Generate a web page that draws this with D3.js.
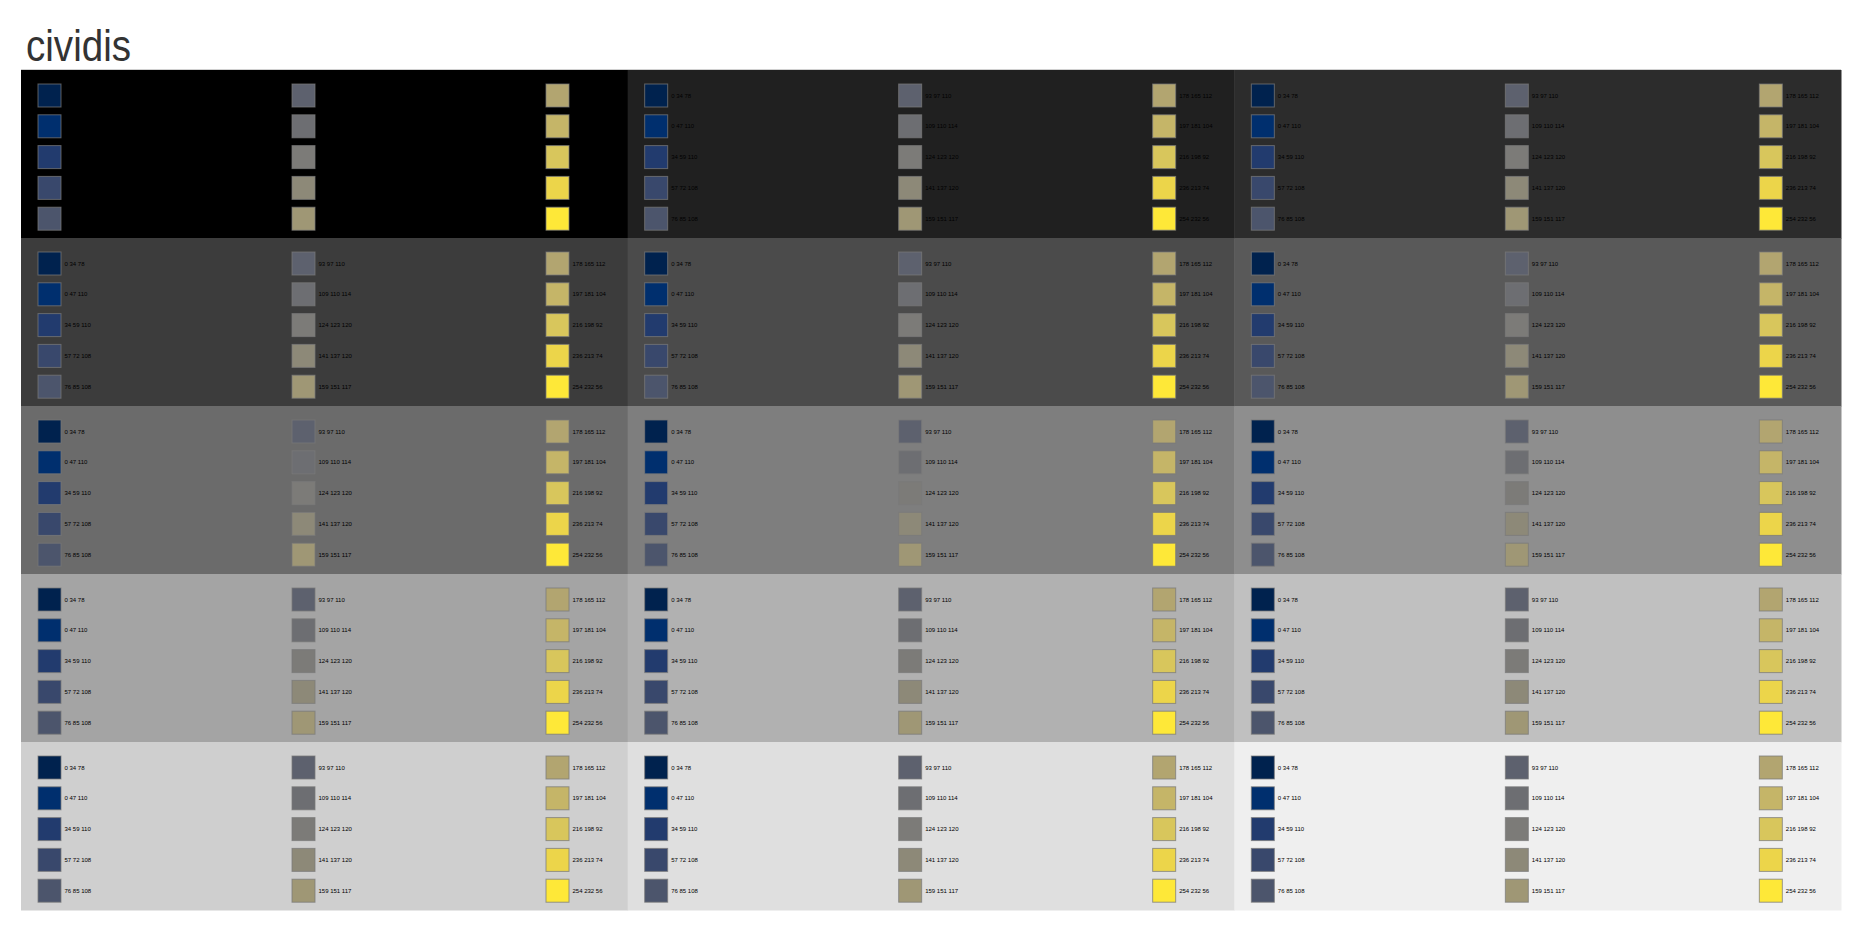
<!DOCTYPE html>
<html>
<head>
<meta charset="utf-8">
<script src="https://cdn.jsdelivr.net/npm/d3@7"></script>
<style>
  html, body { margin: 0; padding: 0; background: #fff; }
  svg { display: block; }
</style>
</head>
<body>
<svg id="chart" width="1862" height="931"></svg>
<script>
const title = "cividis";
// cividis swatch colours (r g b), 3 columns x 5 rows
const swatchColors = [
  "0 34 78", "0 47 110", "34 59 110", "57 72 108", "76 85 108",
  "93 97 110", "109 110 114", "124 123 120", "141 137 120", "159 151 117",
  "178 165 112", "197 181 104", "216 198 92", "236 213 74", "254 232 56"
];
// panel background grey levels (row-major, 5 rows x 3 columns)
const panelGreys = [
  0, 32, 44,
  60, 75, 89,
  107, 126, 142,
  164, 177, 192,
  207, 223, 239
];
const panelCols = [0, 1, 2];
const panelRows = [0, 1, 2, 3, 4];
const swatchCols = [0, 1, 2];
const swatchRows = [0, 1, 2, 3, 4];

const svg = d3.select("#chart");

svg.append("text")
  .attr("x", 26)
  .attr("y", 61)
  .attr("font-family", "Liberation Sans, Arial, sans-serif")
  .attr("font-size", 44)
  .attr("fill", "#333")
  .attr("textLength", 105)
  .attr("lengthAdjust", "spacingAndGlyphs")
  .text(title);

const xPanel = d3.scaleBand().domain(panelCols).range([21, 1841]);
const yPanel = d3.scaleBand().domain(panelRows).range([70, 910]);
const xSw = d3.scalePoint().domain(swatchCols).range([16.5, 524.5]);
const ySw = d3.scalePoint().domain(swatchRows).range([13.5, 136.7]);
const swSize = 23;

const panels = [];
panelRows.forEach(r => panelCols.forEach(c => panels.push({r, c, g: panelGreys[r * 3 + c]})));

const pg = svg.selectAll("g.panel").data(panels).join("g")
  .attr("class", "panel")
  .attr("transform", d => `translate(${xPanel(d.c)},${yPanel(d.r)})`);

pg.append("rect")
  .attr("width", xPanel.bandwidth() + 0.5)
  .attr("height", yPanel.bandwidth() + 0.5)
  .attr("fill", d => d3.rgb(d.g, d.g, d.g));

const sw = [];
swatchCols.forEach(c => swatchRows.forEach(r => sw.push({c, r, v: swatchColors[c * 5 + r]})));

const sg = pg.selectAll("g.sw").data(sw).join("g")
  .attr("class", "sw")
  .attr("transform", d => `translate(${xSw(d.c)},${ySw(d.r)})`);

sg.append("rect")
  .attr("x", 0.5).attr("y", 0.5)
  .attr("width", swSize).attr("height", swSize)
  .attr("fill", d => { const p = d.v.split(" ").map(Number); return d3.rgb(p[0], p[1], p[2]); })
  .attr("stroke", "#7a7a7a")
  .attr("stroke-opacity", 0.75)
  .attr("stroke-width", 1);

sg.append("text")
  .attr("x", swSize + 4)
  .attr("y", swSize / 2 + 1)
  .attr("dominant-baseline", "middle")
  .attr("font-family", "Liberation Sans, Arial, sans-serif")
  .attr("font-size", 6)
  .attr("fill", "#000")
  .text(d => d.v);

svg.append("line")
  .attr("x1", 21).attr("x2", 1841)
  .attr("y1", 69.5).attr("y2", 69.5)
  .attr("stroke", "#d0d0d0");
</script>
</body>
</html>
